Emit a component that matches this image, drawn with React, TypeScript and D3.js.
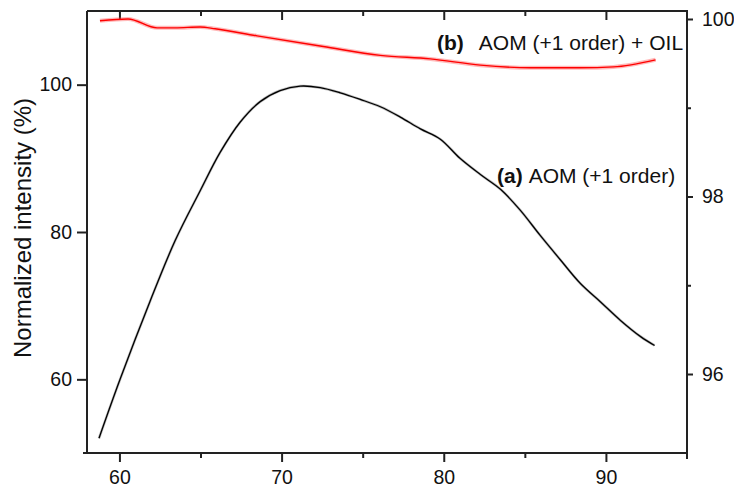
import React, { useEffect, useRef } from "react";
import * as d3 from "d3";

// Series (a): AOM (+1 order), left axis (%)
const aX = [58.74, 60.04, 61.89, 63.43, 64.98, 66.21, 67.44, 68.68, 69.91, 71.15, 72.38, 73.62, 74.85, 76.09, 77.32, 78.56, 79.79, 81.0, 82.26, 83.5, 84.7, 85.96, 87.2, 88.43, 89.67, 90.9, 92.14, 93.0];
const aY = [52.0, 60.0, 70.6, 78.8, 85.6, 90.8, 94.9, 97.7, 99.2, 99.8, 99.6, 98.9, 98.0, 97.0, 95.6, 94.0, 92.6, 90.0, 87.8, 85.8, 83.0, 79.5, 76.2, 73.0, 70.5, 68.0, 65.8, 64.6];

// Series (b): AOM (+1 order) + OIL, right axis
const bX = [58.8, 60.53, 62.32, 63.43, 64.98, 65.9, 68.49, 72.57, 76.09, 79.17, 82.26, 85.35, 88.43, 90.47, 93.06];
const bY = [99.98, 100.0, 99.9, 99.9, 99.91, 99.89, 99.81, 99.69, 99.59, 99.55, 99.48, 99.45, 99.45, 99.46, 99.54];

const xMajor = [60, 70, 80, 90];
const xMinor = [65, 75, 85];
const yLeftTicks = [60, 80, 100];
const yRightMajor = [96, 98, 100];
const yRightMinor = [97, 99];

const FONT = "'Liberation Sans', Arial, sans-serif";

export default function App() {
  const ref = useRef<SVGSVGElement>(null);

  useEffect(() => {
    const svg = d3.select(ref.current);
    svg.selectAll("*").remove();

    const L = 87, R = 687, T = 11, B = 453;
    const x = d3.scaleLinear().domain([58, 95]).range([L, R]);
    const yL = d3.scaleLinear().domain([50, 110]).range([B, T]);
    const yR = d3.scaleLinear().domain([95.11, 100.09]).range([B, T]);

    const axStroke = "#222";
    const style = (g: any) => {
      g.selectAll("path.domain").remove();
      g.selectAll("line").attr("stroke", axStroke).attr("stroke-width", 2);
      g.selectAll("text").attr("font-family", FONT).attr("font-size", 19.5).attr("fill", "#111");
    };

    // bottom axis
    svg.append("g").attr("transform", `translate(0,${B})`)
      .call(d3.axisBottom(x).tickValues(xMajor).tickSize(9).tickPadding(8).tickFormat(d3.format("d")))
      .call(style);
    svg.append("g").attr("transform", `translate(0,${B})`)
      .call(d3.axisBottom(x).tickValues(xMinor).tickSize(5).tickFormat(() => ""))
      .call(style);
    // top axis (inward ticks)
    svg.append("g").attr("transform", `translate(0,${T})`)
      .call(d3.axisBottom(x).tickValues(xMajor).tickSize(9).tickFormat(() => ""))
      .call(style);
    svg.append("g").attr("transform", `translate(0,${T})`)
      .call(d3.axisBottom(x).tickValues(xMinor).tickSize(5).tickFormat(() => ""))
      .call(style);
    // left axis
    svg.append("g").attr("transform", `translate(${L},0)`)
      .call(d3.axisLeft(yL).tickValues(yLeftTicks).tickSize(10).tickPadding(5).tickFormat(d3.format("d")))
      .call(style);
    // right axis
    svg.append("g").attr("transform", `translate(${R},0)`)
      .call(d3.axisRight(yR).tickValues(yRightMajor).tickSize(6).tickPadding(9).tickFormat(d3.format("d")))
      .call(style);
    svg.append("g").attr("transform", `translate(${R},0)`)
      .call(d3.axisRight(yR).tickValues(yRightMinor).tickSize(4).tickFormat(() => ""))
      .call(style);

    // frame lines
    const frame = svg.append("g").attr("stroke", axStroke).attr("stroke-width", 2);
    frame.append("line").attr("x1", L - 4).attr("x2", R).attr("y1", B).attr("y2", B);
    frame.append("line").attr("x1", L).attr("x2", L).attr("y1", T).attr("y2", B);
    frame.append("line").attr("x1", L).attr("x2", R + 1).attr("y1", T).attr("y2", T);
    frame.append("line").attr("x1", R).attr("x2", R).attr("y1", T).attr("y2", B + 6);

    // series (b)
    const bData = bX.map((v, i) => [v, bY[i]] as [number, number]);
    const lineB = d3.line<[number, number]>().x(d => x(d[0])).y(d => yR(d[1])).curve(d3.curveMonotoneX);
    svg.append("path").attr("d", lineB(bData)).attr("fill", "none").attr("stroke", "#ff5050").attr("stroke-width", 4).attr("stroke-opacity", 0.4);
    svg.append("path").attr("d", lineB(bData)).attr("fill", "none").attr("stroke", "#ff0000").attr("stroke-width", 1.4);

    // series (a)
    const aData = aX.map((v, i) => [v, aY[i]] as [number, number]);
    const lineA = d3.line<[number, number]>().x(d => x(d[0])).y(d => yL(d[1])).curve(d3.curveCatmullRom.alpha(0.5));
    svg.append("path").attr("d", lineA(aData)).attr("fill", "none").attr("stroke", "#444").attr("stroke-width", 2.6).attr("stroke-opacity", 0.35);
    svg.append("path").attr("d", lineA(aData)).attr("fill", "none").attr("stroke", "#000").attr("stroke-width", 1.3);

    // y label
    svg.append("text")
      .attr("transform", `translate(31,228) rotate(-90)`)
      .attr("text-anchor", "middle")
      .attr("font-family", FONT).attr("font-size", 24).attr("fill", "#111")
      .text("Normalized intensity (%)");

    // annotations
    const tb = svg.append("text").attr("x", 437).attr("y", 50)
      .attr("font-family", FONT).attr("font-size", 21).attr("fill", "#111");
    tb.append("tspan").attr("font-weight", "bold").text("(b)");
    tb.append("tspan").attr("dx", 15).text("AOM (+1 order) + OIL");

    const ta = svg.append("text").attr("x", 497).attr("y", 183)
      .attr("font-family", FONT).attr("font-size", 21).attr("fill", "#111");
    ta.append("tspan").attr("font-weight", "bold").text("(a)");
    ta.append("tspan").attr("dx", 6).text("AOM (+1 order)");
  }, []);

  return (
    <svg ref={ref} width={734} height={488}
      style={{ position: "absolute", left: 0, top: 0, background: "#fff" }} />
  );
}
